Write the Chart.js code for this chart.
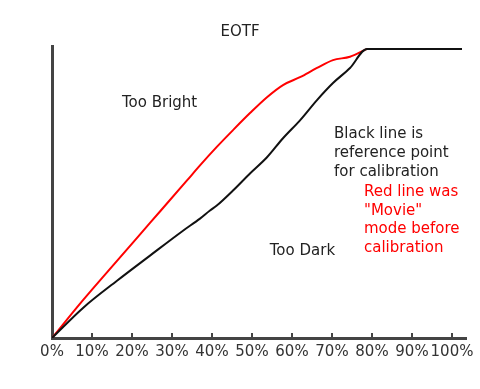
<!DOCTYPE html>
<html>
<head>
<meta charset="utf-8">
<title>EOTF</title>
<script src="https://cdn.jsdelivr.net/npm/chart.js@4.4.0/dist/chart.umd.min.js"></script>
<style>
  html, body { margin: 0; padding: 0; background: #fff; }
  #wrap { width: 480px; height: 389px; }
</style>
</head>
<body>
<div id="wrap"><canvas id="eotfChart"></canvas></div>
<script>
// datos (x = % de entrada, y = % de salida)
const referenceX = [0, 7.75, 16.25, 24.5, 32.75, 37, 39.5, 41.2, 45.25, 49.5, 53.75, 57.75, 62, 66.25, 70.25, 74.5, 78.75, 102.5];
const referenceY = [0, 10.4, 19.8, 28.5, 37.1, 41.3, 44.1, 45.8, 51.0, 56.9, 62.5, 69.1, 75.3, 82.3, 88.2, 93.4, 100, 100];

const movieX = [0, 7.75, 16.25, 24.5, 33.75, 37, 41.2, 45.25, 49.5, 53.75, 57.75, 62, 66.25, 70.25, 74.5, 78.75];
const movieY = [0, 13.1, 26.7, 39.8, 54.5, 59.7, 66.1, 71.9, 77.8, 83.3, 87.5, 90.2, 93.4, 96.1, 97.3, 100];

const tickValues = [0, 10, 20, 30, 40, 50, 60, 70, 80, 90, 100];

// notas de texto: [x, y] en unidades del gráfico
const notes = [
    { lines: ['Too Bright'], x: 26.9, y: 81.2, align: 'center', color: '#222' },
    { lines: ['Too Dark'], x: 62.6, y: 30.2, align: 'center', color: '#222' },
    { lines: ['Black line is', 'reference point', 'for calibration'], x: 70.5, y: 70.5, align: 'left', color: '#222', step: 19 },
    { lines: ['Red line was', '"Movie"', 'mode before', 'calibration'], x: 78, y: 50.3, align: 'left', color: '#ff0000', step: 18.5 }
];

const toPoints = (xs, ys) => xs.map((x, i) => ({ x: x, y: ys[i] }));

// marcas de eje hacia dentro + notas
const extrasPlugin = {
    id: 'extras',
    afterDraw(chart) {
        const ctx = chart.ctx;
        const xs = chart.scales.x;
        const ys = chart.scales.y;
        const base = chart.chartArea.bottom;

        ctx.save();
        ctx.strokeStyle = '#444';
        ctx.lineWidth = 2;
        tickValues.slice(1).forEach(v => {
            const px = xs.getPixelForValue(v);
            ctx.beginPath();
            ctx.moveTo(px, base);
            ctx.lineTo(px, base - 5);
            ctx.stroke();
        });

        ctx.font = '15px "DejaVu Sans"';
        ctx.textBaseline = 'middle';
        notes.forEach(n => {
            ctx.fillStyle = n.color;
            ctx.textAlign = n.align;
            const px = xs.getPixelForValue(n.x);
            const py = ys.getPixelForValue(n.y);
            n.lines.forEach((line, i) => {
                ctx.fillText(line, px, py + i * (n.step || 0));
            });
        });
        ctx.restore();
    }
};

document.addEventListener('DOMContentLoaded', function() {
    const ctx = document.getElementById('eotfChart').getContext('2d');

    new Chart(ctx, {
        type: 'line',
        data: {
            datasets: [
                {
                    label: 'Reference',
                    data: toPoints(referenceX, referenceY),
                    borderColor: '#111',
                    borderWidth: 2,
                    pointRadius: 0,
                    cubicInterpolationMode: 'monotone'
                },
                {
                    label: 'Movie',
                    data: toPoints(movieX, movieY),
                    borderColor: '#ff0000',
                    borderWidth: 2,
                    pointRadius: 0,
                    cubicInterpolationMode: 'monotone'
                }
            ]
        },
        options: {
            responsive: true,
            maintainAspectRatio: false,
            animation: false,
            layout: {
                padding: { left: 14, right: 14, top: 0, bottom: 23 }
            },
            plugins: {
                legend: false,
                tooltip: { enabled: false },
                title: {
                    display: true,
                    text: 'EOTF',
                    color: '#222',
                    font: { family: 'DejaVu Sans', size: 15, weight: 'normal' },
                    padding: { top: 23, bottom: 5 }
                }
            },
            scales: {
                x: {
                    type: 'linear',
                    min: 0,
                    max: 103.5,
                    border: { color: '#444', width: 3 },
                    grid: { drawOnChartArea: false, drawTicks: false },
                    afterBuildTicks: function(scale) {
                        scale.ticks = tickValues.map(v => ({ value: v }));
                    },
                    ticks: {
                        padding: 5,
                        maxRotation: 0,
                        autoSkip: false,
                        color: '#333',
                        font: { family: 'DejaVu Sans', size: 15 },
                        callback: v => v + '%'
                    }
                },
                y: {
                    type: 'linear',
                    min: 0,
                    max: 101,
                    border: { color: '#444', width: 3 },
                    grid: { drawOnChartArea: false, drawTicks: false },
                    ticks: { display: false },
                    afterFit: function(scale) {
                        scale.width = 38;
                    }
                }
            }
        },
        plugins: [extrasPlugin]
    });
});
</script>
</body>
</html>
